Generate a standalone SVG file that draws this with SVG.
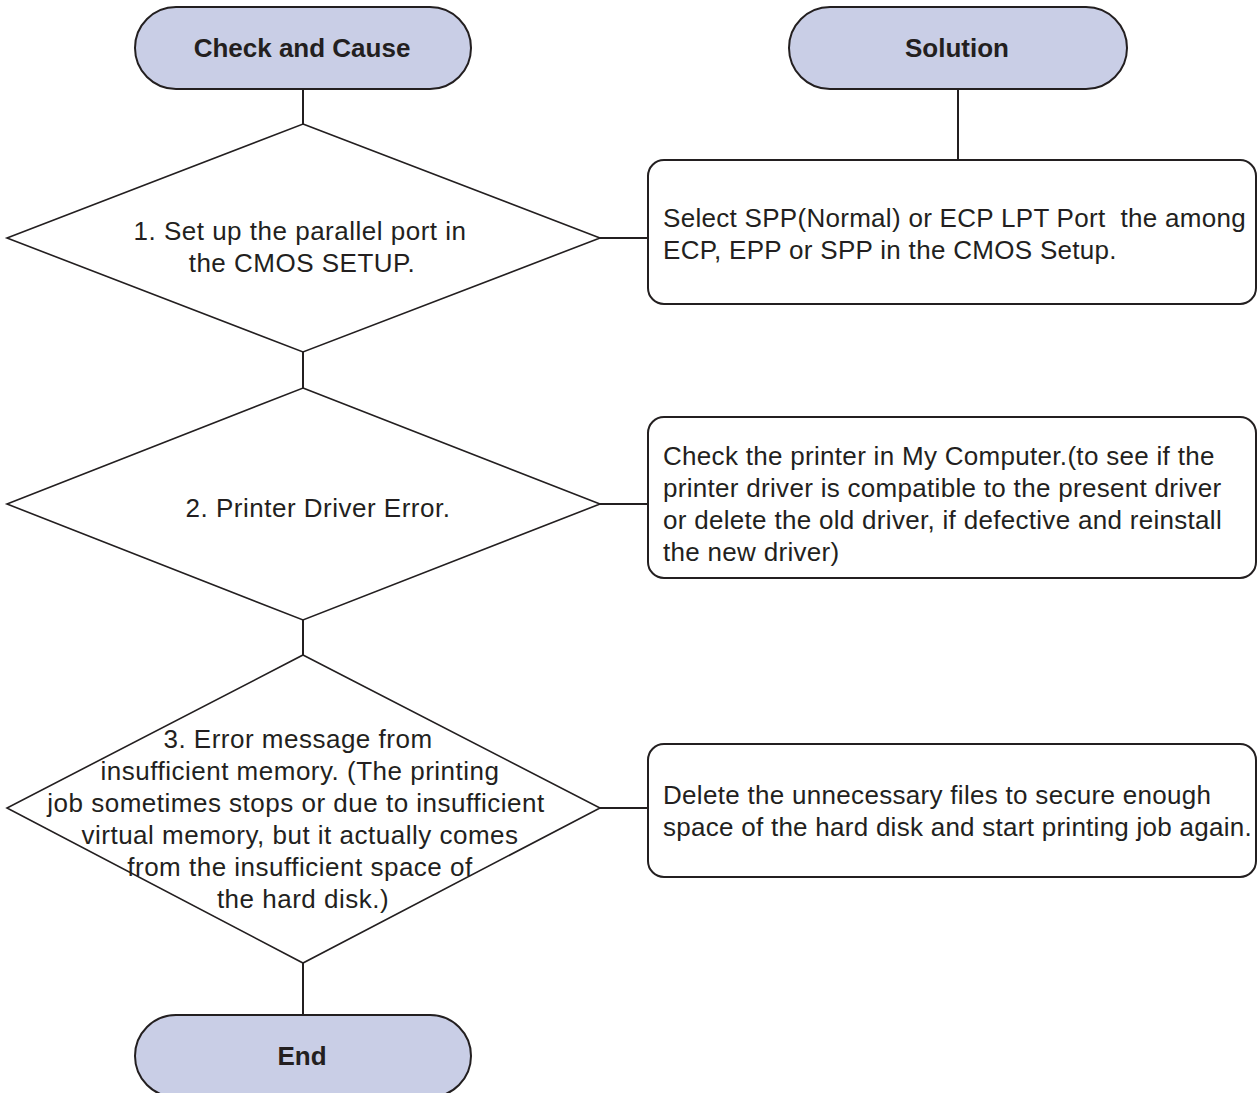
<svg xmlns="http://www.w3.org/2000/svg" width="1260" height="1093" viewBox="0 0 1260 1093">
  <style>
    .term { fill: #c9cee6; stroke: #231f20; stroke-width: 2; }
    .shape { fill: #ffffff; stroke: #231f20; stroke-width: 1.6; }
    .box { fill: #ffffff; stroke: #231f20; stroke-width: 2; }
    .link { stroke: #231f20; stroke-width: 2; fill: none; }
    .hd { font-family: "Liberation Sans", Arial, sans-serif; font-weight: bold; font-size: 26px; fill: #231f20; text-anchor: middle; }
    .tx { font-family: "Liberation Sans", Arial, sans-serif; font-size: 26px; letter-spacing: 0.5px; fill: #231f20; white-space: pre; }
    .bt { letter-spacing: 0.3px; }
    .c { text-anchor: middle; }
  </style>
  <rect width="1260" height="1093" fill="#ffffff"/>

  <g id="connectors">
    <line class="link" x1="303" y1="89" x2="303" y2="124"/>
    <line class="link" x1="303" y1="352" x2="303" y2="388"/>
    <line class="link" x1="303" y1="620" x2="303" y2="655"/>
    <line class="link" x1="303" y1="963" x2="303" y2="1015"/>
    <line class="link" x1="958" y1="89" x2="958" y2="160"/>
    <line class="link" x1="600" y1="238" x2="648" y2="238"/>
    <line class="link" x1="600" y1="504" x2="648" y2="504"/>
    <line class="link" x1="600" y1="808" x2="648" y2="808"/>
  </g>

  <g id="check-and-cause">
    <rect class="term" x="135" y="7" width="336" height="82" rx="41" ry="41"/>
    <text class="hd" x="302" y="57">Check and Cause</text>
  </g>

  <g id="solution">
    <rect class="term" x="789" y="7" width="338" height="82" rx="41" ry="41"/>
    <text class="hd" x="957" y="57">Solution</text>
  </g>

  <g id="step-1">
    <polygon class="shape" points="303,124 600,238 303,352 7,238"/>
    <text class="tx c" x="300" y="240">1. Set up the parallel port in</text>
    <text class="tx c" x="302" y="272">the CMOS SETUP.</text>
  </g>

  <g id="solution-1">
    <rect class="box" x="648" y="160" width="608" height="144" rx="16" ry="16"/>
    <text class="tx bt" x="663" y="227" textLength="583" xml:space="preserve">Select SPP(Normal) or ECP LPT Port  the among</text>
    <text class="tx bt" x="663" y="259">ECP, EPP or SPP in the CMOS Setup.</text>
  </g>

  <g id="step-2">
    <polygon class="shape" points="303,388 600,504 303,620 7,504"/>
    <text class="tx c" x="318" y="517">2. Printer Driver Error.</text>
  </g>

  <g id="solution-2">
    <rect class="box" x="648" y="417" width="608" height="161" rx="16" ry="16"/>
    <text class="tx bt" x="663" y="465">Check the printer in My Computer.(to see if the</text>
    <text class="tx bt" x="663" y="497">printer driver is compatible to the present driver</text>
    <text class="tx bt" x="663" y="529">or delete the old driver, if defective and reinstall</text>
    <text class="tx bt" x="663" y="561">the new driver)</text>
  </g>

  <g id="step-3">
    <polygon class="shape" points="303,655 600,808 303,963 7,808"/>
    <text class="tx c" x="298" y="748">3. Error message from</text>
    <text class="tx c" x="300" y="780">insufficient memory. (The printing</text>
    <text class="tx c" x="296" y="812">job sometimes stops or due to insufficient</text>
    <text class="tx c" x="300" y="844">virtual memory, but it actually comes</text>
    <text class="tx c" x="300" y="876">from the insufficient space of</text>
    <text class="tx c" x="303" y="908">the hard disk.)</text>
  </g>

  <g id="solution-3">
    <rect class="box" x="648" y="744" width="608" height="133" rx="16" ry="16"/>
    <text class="tx bt" x="663" y="804">Delete the unnecessary files to secure enough</text>
    <text class="tx bt" x="663" y="836" textLength="589">space of the hard disk and start printing job again.</text>
  </g>

  <g id="end">
    <rect class="term" x="135" y="1015" width="336" height="82" rx="41" ry="41"/>
    <text class="hd" x="302" y="1065">End</text>
  </g>
</svg>
